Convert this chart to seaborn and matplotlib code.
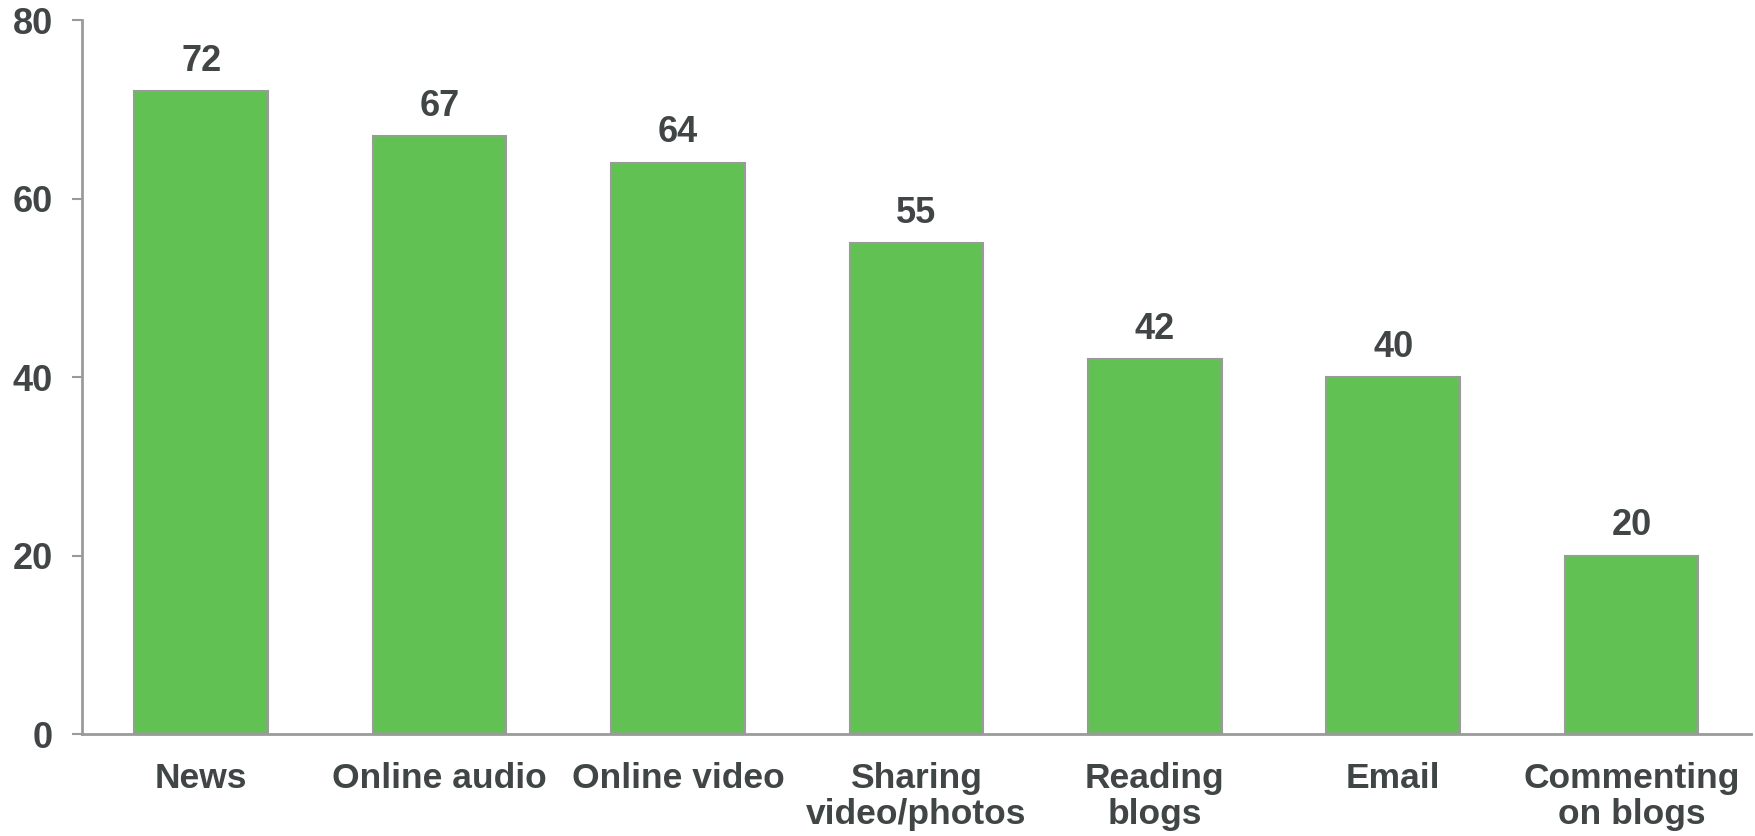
import matplotlib
matplotlib.use("Agg")
import matplotlib.pyplot as plt
import seaborn as sns
import pandas as pd

categories = ["News", "Online audio", "Online video", "Sharing\nvideo/photos",
              "Reading\nblogs", "Email", "Commenting\non blogs"]
values = [72, 67, 64, 55, 42, 40, 20]
y_ticks = [0, 20, 40, 60, 80]

sns.set_style("white")
plt.rcParams['font.family'] = ['Liberation Sans', 'DejaVu Sans']

text_color = "#404545"
axis_color = "#9a9a9a"
bar_color = "#62C153"

df = pd.DataFrame({"Activity": categories, "Percent": values})

fig = plt.figure(figsize=(17.56, 8.36), dpi=100)
ax = fig.add_axes([0.0467, 0.122, 0.9503, 0.854])

sns.barplot(data=df, x="Activity", y="Percent", color=bar_color, width=0.56,
            edgecolor=axis_color, linewidth=1.5, saturation=1, ax=ax)

# value labels above bars
for i, v in enumerate(values):
    ax.annotate(str(v), (i, v), xytext=(0, 9), textcoords="offset points",
                ha="center", va="bottom", fontsize=26, fontweight="bold",
                color=text_color)

ax.set_xlim(-0.5, 6.5)
ax.set_ylim(0, 80)
ax.set_yticks(y_ticks)
ax.set_xlabel("")
ax.set_ylabel("")

for side in ["top", "right"]:
    ax.spines[side].set_visible(False)
for side in ["left", "bottom"]:
    ax.spines[side].set_color(axis_color)
    ax.spines[side].set_linewidth(2)

ax.tick_params(axis="y", length=7, width=1.5, color=axis_color, left=True,
               labelsize=26, labelcolor=text_color, pad=14)
ax.tick_params(axis="x", length=0, labelsize=25.5, labelcolor=text_color, pad=20)
for lbl in ax.get_xticklabels() + ax.get_yticklabels():
    lbl.set_fontweight("bold")
for lbl in ax.get_xticklabels():
    lbl.set_linespacing(1.12)

fig.savefig("out.png", dpi=100)
